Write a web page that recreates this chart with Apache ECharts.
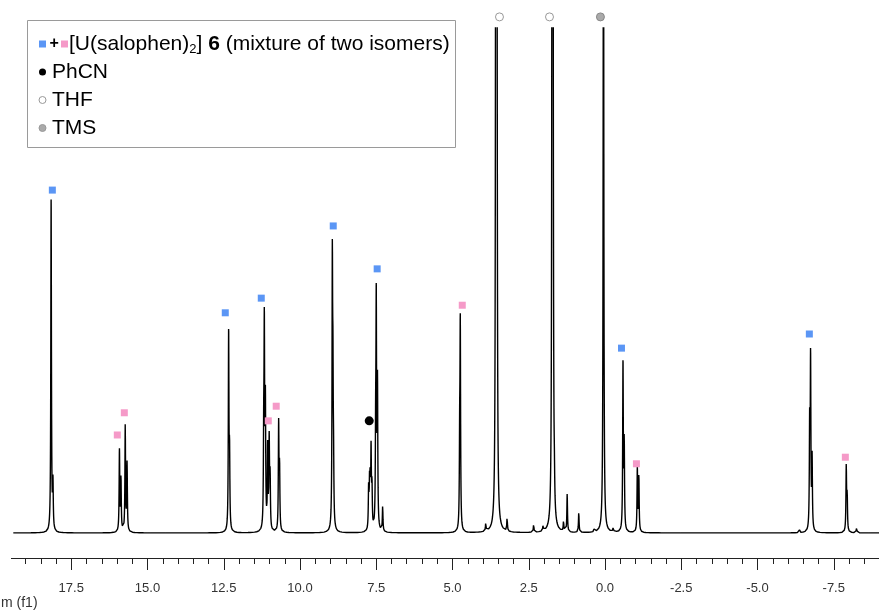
<!DOCTYPE html>
<html><head><meta charset="utf-8">
<script src="https://cdn.jsdelivr.net/npm/echarts@6/dist/echarts.min.js"></script>
<style>html,body{margin:0;padding:0;background:#fff;overflow:hidden;width:879px;height:612px}
#c{position:absolute;left:-5px;top:0;width:915px;height:612px}</style>
</head><body><div id="c"></div>
<script>
// Peak list (chemical shift in ppm, intensity in arbitrary units; 100 = top of plot)
const peakPpm = [18.16, 18.10, 15.92, 15.87, 15.73, 15.67, 12.34, 12.31,
  11.19, 11.17, 11.135, 11.06, 11.01, 10.98, 10.70, 10.67,
  8.94, 8.92, 8.90, 7.75, 7.72, 7.70, 7.67, 7.64, 7.52, 7.50, 7.46, 7.29,
  4.745, 4.765, 3.91, 3.58, 3.545, 3.21, 2.34, 2.03, 1.735, 1.705, 1.66, 1.36, 1.24, 0.86, 0.35, 0.05,
  -0.27, -0.59, -0.63, -1.06, -1.11, -6.38, -6.71, -6.74, -6.79, -7.91, -7.94, -8.25];
const peakHeight = [65.7, 9, 16.1, 10.5, 21.0, 13.5, 38.8, 14,
  15, 38, 24, 16, 17.4, 10, 21, 12,
  51, 24, 10, 8, 8, 8, 15, 8, 15, 43, 28, 5,
  39.5, 15, 1.6, 170, 160, 2.8, 1.6, 1.2, 150, 140, 4, 2, 7.5, 4, 0.8, 150,
  1, 33, 17, 12.5, 11, 0.6, 20, 33.2, 14, 12.8, 7, 1.2];
const lineHwhm = 0.012;      // half width of each Lorentzian line, ppm
const ppmStart = 19.4, ppmEnd = -9.0, ppmStep = 0.003;

// axis
const axisMin = -10, axisMax = 20, majorInterval = 2.5, minorSplit = 5;
const axisTitle = 'm (f1)';

// peak assignment markers [ppm, height]
const blueMarks = [[18.12, 67.9], [12.45, 43.6], [11.27, 46.5], [8.91, 60.8], [7.47, 52.3], [-0.54, 36.6], [-6.70, 39.4]];
const pinkMarks = [[15.99, 19.4], [15.76, 23.8], [11.04, 22.2], [10.78, 25.1], [4.68, 45.1], [-1.03, 13.7], [-7.88, 15.0]];
const phcnMarks = [[7.73, 22.2]];
const thfMarks = [[3.46, 102.2], [1.82, 102.2]];
const tmsMarks = [[0.15, 102.2]];

const legendRows = ['PhCN', 'THF', 'TMS'];

// build spectrum from the peak list
const xs = [];
for (let x = ppmStart; x >= ppmEnd; x -= ppmStep) xs.push(+x.toFixed(4));
peakPpm.forEach(p => xs.push(p));
xs.sort((a, b) => b - a);
const spectrum = xs.map(x => {
  let y = 0;
  for (let i = 0; i < peakPpm.length; i++) {
    const d = (x - peakPpm[i]) / lineHwhm;
    y += peakHeight[i] / (1 + d * d);
  }
  return [x, y];
});

const BLUE = '#5b96f5', PINK = '#f59ac8';
const FONT = 'Liberation Sans, Arial, sans-serif';
const OX = 5; // chart canvas is shifted 5px left of the page

const chart = echarts.init(document.getElementById('c'), null, {renderer: 'canvas'});
chart.setOption({
  animation: false,
  backgroundColor: '#fff',
  grid: {left: 0, right: 0, top: 28, bottom: 74, containLabel: false},
  xAxis: {
    type: 'value', inverse: true, min: axisMin, max: axisMax, interval: majorInterval,
    offset: 20,
    axisLine: {show: true, onZero: false, lineStyle: {color: '#222', width: 1}},
    axisTick: {show: true, length: 12, lineStyle: {color: '#222'}},
    minorTick: {show: true, splitNumber: minorSplit, length: 6, lineStyle: {color: '#222'}},
    splitLine: {show: false},
    axisLabel: {margin: 24, fontSize: 13, color: '#333', fontFamily: FONT,
      showMinLabel: false, showMaxLabel: false,
      formatter: v => v.toFixed(1)}
  },
  yAxis: {type: 'value', min: -1, max: 100, show: false},
  series: [
    {type: 'line', data: spectrum, showSymbol: false, sampling: 'none', clip: true,
      lineStyle: {color: '#000', width: 1.4}, z: 2},
    {type: 'scatter', data: blueMarks, symbol: 'rect', symbolSize: 7, clip: false,
      itemStyle: {color: BLUE, opacity: 1}, z: 3},
    {type: 'scatter', data: pinkMarks, symbol: 'rect', symbolSize: 7, clip: false,
      itemStyle: {color: PINK, opacity: 1}, z: 3},
    {type: 'scatter', data: phcnMarks, symbol: 'circle', symbolSize: 9, clip: false,
      itemStyle: {color: '#000', opacity: 1}, z: 3},
    {type: 'scatter', data: thfMarks, symbol: 'circle', symbolSize: 8, clip: false,
      itemStyle: {color: '#fff', borderColor: '#999', borderWidth: 1, opacity: 1}, z: 3},
    {type: 'scatter', data: tmsMarks, symbol: 'circle', symbolSize: 8, clip: false,
      itemStyle: {color: '#aaa', borderColor: '#888', borderWidth: 1, opacity: 1}, z: 3}
  ],
  graphic: [
    {type: 'rect', shape: {x: 0, y: 545, width: OX + 11, height: 30}, style: {fill: '#fff'}, z: 50},
    {type: 'text', x: OX + 1, y: 603, style: {text: axisTitle, font: '14px ' + FONT, fill: '#333', verticalAlign: 'middle'}, z: 50},
    {type: 'rect', shape: {x: OX + 27.5, y: 20.5, width: 428, height: 127}, style: {fill: '#fff', stroke: '#9a9a9a', lineWidth: 1}, z: 60},
    {type: 'rect', shape: {x: OX + 39, y: 40.5, width: 7, height: 7}, style: {fill: BLUE}, z: 61},
    {type: 'text', x: OX + 49.5, y: 44, style: {text: '+', font: 'bold 16px ' + FONT, fill: '#000', verticalAlign: 'middle'}, z: 61},
    {type: 'rect', shape: {x: OX + 61, y: 40.5, width: 7, height: 7}, style: {fill: PINK}, z: 61},
    {type: 'text', x: OX + 69, y: 44, style: {
      text: '{a|[U(salophen)}{s|2}{a|] }{b|6}{a| (mixture of two isomers)}',
      verticalAlign: 'middle',
      rich: {
        a: {fontSize: 21, fontFamily: FONT, fill: '#000'},
        s: {fontSize: 13, fontFamily: FONT, fill: '#000', padding: [11, 0, 0, 0]},
        b: {fontSize: 21, fontFamily: FONT, fontWeight: 'bold', fill: '#000'}
      }}, z: 61},
    {type: 'circle', shape: {cx: OX + 42.5, cy: 72, r: 3.5}, style: {fill: '#000'}, z: 61},
    {type: 'text', x: OX + 52, y: 72, style: {text: legendRows[0], font: '21px ' + FONT, fill: '#000', verticalAlign: 'middle'}, z: 61},
    {type: 'circle', shape: {cx: OX + 42.5, cy: 100, r: 3.5}, style: {fill: '#fff', stroke: '#999', lineWidth: 1}, z: 61},
    {type: 'text', x: OX + 52, y: 100, style: {text: legendRows[1], font: '21px ' + FONT, fill: '#000', verticalAlign: 'middle'}, z: 61},
    {type: 'circle', shape: {cx: OX + 42.5, cy: 128, r: 3.5}, style: {fill: '#aaa', stroke: '#999', lineWidth: 1}, z: 61},
    {type: 'text', x: OX + 52, y: 128, style: {text: legendRows[2], font: '21px ' + FONT, fill: '#000', verticalAlign: 'middle'}, z: 61}
  ]
});
</script>
</body></html>
